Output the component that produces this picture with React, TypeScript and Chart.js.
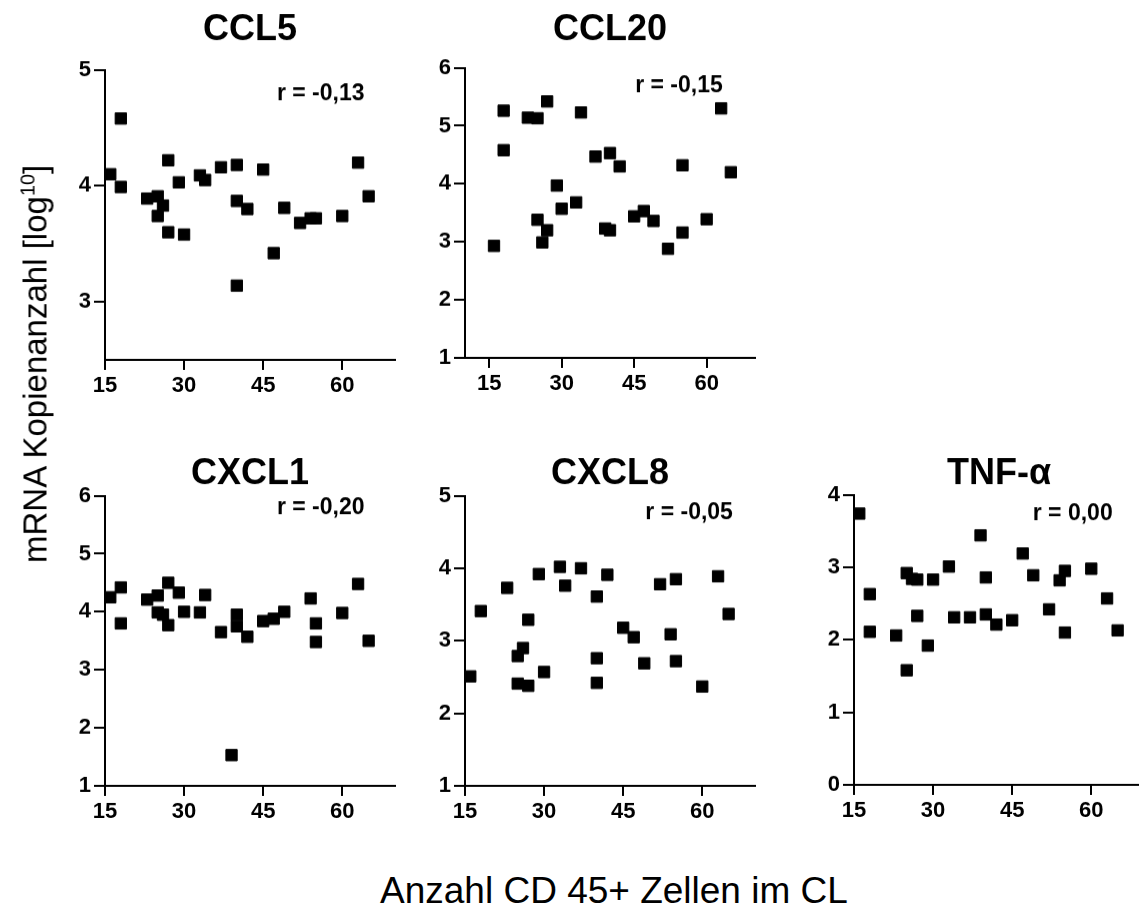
import React, { useEffect, useRef } from "react";
import { Chart, registerables } from "chart.js";

Chart.register(...registerables);

const FONT = "'Liberation Sans', Arial, Helvetica, sans-serif";

// shared tick labels
const xTicks = [15, 30, 45, 60];

// CCL5
const ccl5X = [16, 18, 18, 23, 25, 25, 26, 27, 27, 29, 30, 33, 34, 37, 40, 40, 40, 42, 45, 47, 49, 52, 54, 55, 60, 63, 65];
const ccl5Y = [4.10, 4.58, 3.99, 3.89, 3.91, 3.74, 3.83, 4.22, 3.60, 4.03, 3.58, 4.09, 4.05, 4.16, 4.18, 3.87, 3.14, 3.80, 4.14, 3.42, 3.81, 3.68, 3.72, 3.72, 3.74, 4.20, 3.91];
const ccl5Ticks = [3, 4, 5];

// CCL20
const ccl20X = [16, 18, 18, 23, 25, 25, 26, 27, 27, 29, 30, 33, 34, 37, 39, 40, 40, 42, 45, 47, 49, 52, 55, 55, 60, 63, 65];
const ccl20Y = [2.93, 5.26, 4.58, 5.14, 5.13, 3.38, 2.99, 5.42, 3.20, 3.97, 3.57, 3.68, 5.23, 4.47, 3.23, 4.53, 3.20, 4.30, 3.44, 3.53, 3.36, 2.88, 4.32, 3.16, 3.39, 5.30, 4.20];
const ccl20Ticks = [1, 2, 3, 4, 5, 6];

// CXCL1
const cxcl1X = [16, 18, 18, 23, 25, 25, 26, 27, 27, 29, 30, 33, 34, 37, 39, 40, 40, 42, 45, 47, 49, 54, 55, 55, 60, 63, 65];
const cxcl1Y = [4.25, 4.42, 3.80, 4.21, 4.28, 3.99, 3.95, 4.50, 3.77, 4.33, 4.00, 3.99, 4.29, 3.65, 1.53, 3.95, 3.75, 3.57, 3.84, 3.88, 4.00, 4.23, 3.80, 3.48, 3.98, 4.48, 3.50];
const cxcl1Ticks = [1, 2, 3, 4, 5, 6];

// CXCL8
const cxcl8X = [16, 18, 23, 25, 25, 26, 27, 27, 29, 30, 33, 34, 37, 40, 40, 40, 42, 45, 47, 49, 52, 54, 55, 55, 60, 63, 65];
const cxcl8Y = [2.51, 3.41, 3.73, 2.79, 2.41, 2.90, 3.29, 2.38, 3.92, 2.57, 4.02, 3.76, 4.00, 3.61, 2.76, 2.42, 3.91, 3.18, 3.05, 2.69, 3.78, 3.09, 3.85, 2.72, 2.37, 3.89, 3.37];
const cxcl8Ticks = [1, 2, 3, 4, 5];

// TNF-alpha
const tnfX = [16, 18, 18, 23, 25, 25, 26, 27, 27, 29, 30, 33, 34, 37, 39, 40, 40, 42, 45, 47, 49, 52, 54, 55, 55, 60, 63, 65];
const tnfY = [3.74, 2.63, 2.11, 2.06, 2.92, 1.58, 2.84, 2.83, 2.33, 1.92, 2.83, 3.01, 2.31, 2.31, 3.44, 2.86, 2.35, 2.21, 2.27, 3.19, 2.89, 2.42, 2.82, 2.95, 2.10, 2.98, 2.57, 2.13];
const tnfTicks = [0, 1, 2, 3, 4];

type Panel = {
  title: string;
  xs: number[];
  ys: number[];
  xMin: number;
  xMax: number;
  yMin: number;
  yMax: number;
  yTicks: number[];
  r: string;
  rX: number;
  rY: number;
  left: number;
  top: number;
  width: number;
  height: number;
  titleMid: number;
};

const panels: Panel[] = [
  { title: "CCL5", xs: ccl5X, ys: ccl5Y, xMin: 15, xMax: 70, yMin: 2.5, yMax: 5, yTicks: ccl5Ticks, r: "r = -0,13", rX: 47.6, rY: 4.74, left: 105, top: 70, width: 290, height: 290, titleMid: 30 },
  { title: "CCL20", xs: ccl20X, ys: ccl20Y, xMin: 10, xMax: 70, yMin: 1, yMax: 6, yTicks: ccl20Ticks, r: "r = -0,15", rX: 45.2, rY: 5.57, left: 465, top: 68, width: 290, height: 290, titleMid: 30 },
  { title: "CXCL1", xs: cxcl1X, ys: cxcl1Y, xMin: 15, xMax: 70, yMin: 1, yMax: 6, yTicks: cxcl1Ticks, r: "r = -0,20", rX: 47.6, rY: 5.68, left: 105, top: 496, width: 290, height: 290, titleMid: 474 },
  { title: "CXCL8", xs: cxcl8X, ys: cxcl8Y, xMin: 15, xMax: 70, yMin: 1, yMax: 5, yTicks: cxcl8Ticks, r: "r = -0,05", rX: 49.2, rY: 4.67, left: 465, top: 496, width: 290, height: 290, titleMid: 474 },
  { title: "TNF-\u03b1", xs: tnfX, ys: tnfY, xMin: 15, xMax: 70, yMin: 0, yMax: 4, yTicks: tnfTicks, r: "r = 0,00", rX: 48.9, rY: 3.65, left: 854, top: 495, width: 290, height: 290, titleMid: 474 },
];

const rLabelPlugin = {
  id: "rLabel",
  afterDraw(chart: any, _args: any, opts: any) {
    if (!opts || !opts.text) return;
    const { ctx, scales } = chart;
    ctx.save();
    ctx.font = `bold 23px ${FONT}`;
    ctx.fillStyle = "#000";
    ctx.textAlign = "left";
    ctx.textBaseline = "alphabetic";
    ctx.fillText(opts.text, scales.x.getPixelForValue(opts.x), scales.y.getPixelForValue(opts.y));
    ctx.restore();
  },
};

const Y_W = 60;
const X_H = 50;
const PAD_R = 12;
const TITLE_SIZE = 36;
const TITLE_PAD_TOP = 4;

function PanelChart({ p }: { p: Panel }) {
  const ref = useRef<HTMLCanvasElement>(null);
  const titleLine = TITLE_SIZE * 1.2;
  const canvasLeft = p.left - Y_W;
  const canvasTop = p.titleMid - titleLine / 2 - TITLE_PAD_TOP;
  const titlePadBottom = p.top - (p.titleMid + titleLine / 2);
  const cw = Y_W + p.width + PAD_R;
  const ch = p.top - canvasTop + p.height + X_H;

  useEffect(() => {
    const tickFont = { family: FONT, size: 22, weight: "bold" as const };
    const chart = new Chart(ref.current!, {
      type: "scatter",
      data: {
        datasets: [
          {
            data: p.xs.map((x, i) => ({ x, y: p.ys[i] })),
            pointStyle: "rect",
            pointRadius: 8,
            pointHoverRadius: 8,
            backgroundColor: "#000",
            borderColor: "#000",
            borderWidth: 1,
            clip: false as any,
          },
        ],
      },
      options: {
        responsive: false,
        animation: false,
        devicePixelRatio: 1,
        events: [],
        layout: { padding: { left: 0, right: PAD_R, top: 0, bottom: 0 } },
        plugins: {
          legend: { display: false },
          tooltip: { enabled: false },
          title: {
            display: true,
            text: p.title,
            fullSize: false,
            color: "#000",
            font: { family: FONT, size: TITLE_SIZE, weight: "bold" },
            padding: { top: TITLE_PAD_TOP, bottom: titlePadBottom },
          },
          rLabel: { text: p.r, x: p.rX, y: p.rY },
        } as any,
        scales: {
          x: {
            type: "linear",
            min: p.xMin,
            max: p.xMax,
            afterBuildTicks: (s: any) => {
              s.ticks = xTicks.map((v) => ({ value: v }));
            },
            afterFit: (s: any) => {
              s.height = X_H;
            },
            grid: { display: true, drawOnChartArea: false, drawTicks: true, tickLength: 10, color: "#000", lineWidth: 2 },
            border: { display: true, color: "#000", width: 2 },
            ticks: { color: "#000", font: tickFont, padding: 3, maxRotation: 0, autoSkip: false },
          },
          y: {
            type: "linear",
            min: p.yMin,
            max: p.yMax,
            afterBuildTicks: (s: any) => {
              s.ticks = p.yTicks.map((v) => ({ value: v }));
            },
            afterFit: (s: any) => {
              s.width = Y_W;
            },
            grid: { display: true, drawOnChartArea: false, drawTicks: true, tickLength: 11, color: "#000", lineWidth: 2 },
            border: { display: true, color: "#000", width: 2 },
            ticks: { color: "#000", font: tickFont, padding: 3, autoSkip: false },
          },
        },
      },
      plugins: [rLabelPlugin],
    } as any);
    return () => chart.destroy();
  }, []);

  return (
    <canvas
      ref={ref}
      width={cw}
      height={ch}
      style={{ position: "absolute", left: canvasLeft, top: canvasTop, width: cw, height: ch }}
    />
  );
}

export default function App() {
  return (
    <div
      style={{
        position: "absolute",
        left: 0,
        top: 0,
        width: 1139,
        height: 909,
        overflow: "hidden",
        background: "#fff",
        fontFamily: FONT,
      }}
    >
      {panels.map((p) => (
        <PanelChart key={p.title} p={p} />
      ))}
      <div
        style={{
          position: "absolute",
          left: 35,
          top: 364,
          transform: "translate(-50%, -50%) rotate(-90deg)",
          whiteSpace: "nowrap",
          fontSize: 33,
          lineHeight: 1,
          color: "#000",
        }}
      >
        mRNA Kopienanzahl [log<sup style={{ fontSize: "0.6em", lineHeight: 0 }}>10</sup>]
      </div>
      <div
        style={{
          position: "absolute",
          left: 380,
          top: 872,
          whiteSpace: "nowrap",
          fontSize: 37,
          lineHeight: 1,
          color: "#000",
        }}
      >
        Anzahl CD 45+ Zellen im CL
      </div>
    </div>
  );
}
